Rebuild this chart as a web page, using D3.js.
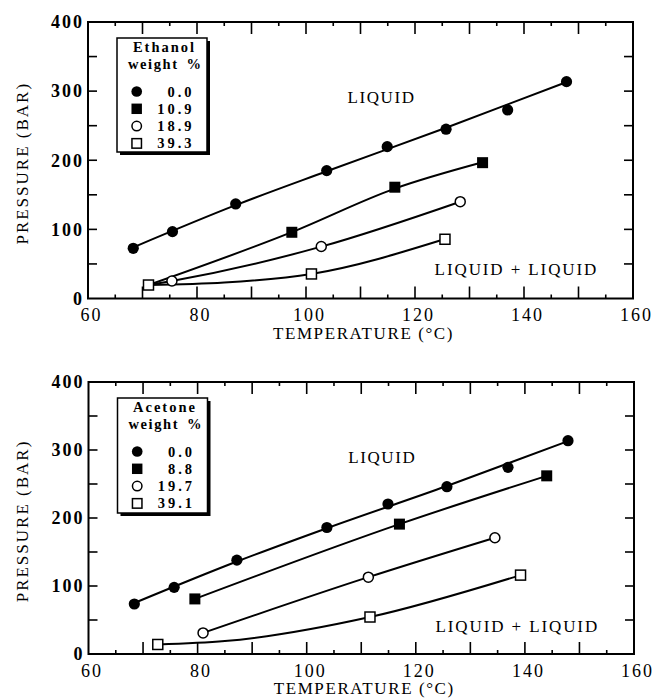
<!DOCTYPE html>
<html><head><meta charset="utf-8">
<script src="https://cdn.jsdelivr.net/npm/d3@7"></script>
<style>body{margin:0;background:#fff}</style>
</head><body><svg id="c" width="656" height="700"></svg>
<script>
// ---------- data ----------
const xTicks = [60, 80, 100, 120, 140, 160];
const yTicks = [0, 100, 200, 300, 400];
const xLabel = "TEMPERATURE (°C)";
const yLabel = "PRESSURE (BAR)";
const regionUpper = "LIQUID";
const regionLower = "LIQUID + LIQUID";
const weightLabel = "weight";
const percentLabel = "%";

// Ethanol panel (measured points)
const ethTitle = "Ethanol";
const ethLabels = ["0.0", "10.9", "18.9", "39.3"];
const eth0T = [68.3, 75.5, 87.1, 103.8, 114.9, 125.7, 137.0, 147.8];
const eth0P = [72.6, 96.7, 136.8, 185, 219.7, 244.9, 272.8, 313.7];
const eth1T = [97.4, 116.3, 132.4];
const eth1P = [95.8, 161, 196.5];
const eth2T = [75.4, 102.8, 128.3];
const eth2P = [25.3, 75.2, 140.1];
const eth3T = [71.1, 101.0, 125.5];
const eth3P = [19.5, 35.5, 85.7];
// Ethanol panel (drawn correlation curves)
const ethFit0T = [68.3, 87.1, 103.8, 125.7, 147.8];
const ethFit0P = [74, 135, 184, 247, 313];
const ethFit1T = [71.1, 97.4, 116.3, 132.4];
const ethFit1P = [19.5, 96, 159, 197];
const ethFit2T = [71.1, 75.4, 102.8, 128.3];
const ethFit2P = [19.5, 25.3, 75, 140];
const ethFit3T = [71.1, 85, 101.0, 125.5];
const ethFit3P = [19.5, 23, 35.5, 86];

// Acetone panel (measured points)
const aceTitle = "Acetone";
const aceLabels = ["0.0", "8.8", "19.7", "39.1"];
const ace0T = [68.4, 75.7, 87.2, 103.7, 114.9, 125.7, 136.9, 147.9];
const ace0P = [73.5, 98, 138, 186, 220.6, 246, 274.5, 313.7];
const ace1T = [79.5, 117.0, 144.0];
const ace1P = [81, 191, 262];
const ace2T = [81.0, 111.3, 134.5];
const ace2P = [31, 113, 171];
const ace3T = [72.7, 111.6, 139.2];
const ace3P = [14, 54.4, 116];
// Acetone panel (drawn correlation curves)
const aceFit0T = [68.4, 87.2, 103.7, 125.7, 147.9];
const aceFit0P = [75, 136, 185, 247, 313];
const aceFit1T = [79.5, 117.0, 144.0];
const aceFit1P = [81, 191, 262];
const aceFit2T = [81.0, 111.3, 134.5];
const aceFit2P = [31, 113, 171];
const aceFit3T = [72.7, 85, 111.6, 139.2];
const aceFit3P = [14, 19, 54.4, 116];

const markerKinds = ["fcircle", "fsquare", "ocircle", "osquare"];

// ---------- drawing ----------
const svg = d3.select("#c");
const FONT = "'Liberation Serif', 'Times New Roman', serif";

function panel(cfg) {
  const x = d3.scaleLinear().domain([60, 160]).range([cfg.left, cfg.right]);
  const y = d3.scaleLinear().domain([0, 400]).range([cfg.bottom, cfg.top]);
  const g = svg.append("g");

  const minorX = d3.range(65, 160, 10), majorX = d3.range(70, 160, 10);
  const ysTicks = d3.range(50, 400, 50);

  // inward tick marks (drawn through the scales)
  const tk = g.append("g").attr("stroke", "#000").attr("stroke-width", 1.6);
  const vTick = (vals, len) => vals.forEach(v => {
    tk.append("line").attr("x1", x(v)).attr("x2", x(v)).attr("y1", cfg.bottom).attr("y2", cfg.bottom - len);
    tk.append("line").attr("x1", x(v)).attr("x2", x(v)).attr("y1", cfg.top).attr("y2", cfg.top + len);
  });
  vTick(minorX, 4);
  vTick(majorX, 12);
  ysTicks.forEach(v => {
    tk.append("line").attr("x1", cfg.left).attr("x2", cfg.left + 9).attr("y1", y(v)).attr("y2", y(v));
    tk.append("line").attr("x1", cfg.right).attr("x2", cfg.right - 9).attr("y1", y(v)).attr("y2", y(v));
  });

  const style = sel => {
    sel.select(".domain").remove();
    sel.selectAll(".tick line").remove();
    sel.selectAll("text").attr("font-family", FONT).attr("fill", "#000");
  };
  // x labels
  const xl = g.append("g").attr("transform", `translate(0,${cfg.bottom})`)
    .call(d3.axisBottom(x).tickValues(xTicks).tickSize(0).tickPadding(10).tickFormat(d3.format("d")))
    .call(style);
  xl.selectAll("text").attr("font-size", 18).attr("letter-spacing", "2px").attr("dx", "3px");
  // y labels
  const yl = g.append("g").attr("transform", `translate(${cfg.left},0)`)
    .call(d3.axisLeft(y).tickValues(yTicks).tickSize(0).tickPadding(4).tickFormat(d3.format("d")))
    .call(style);
  yl.selectAll("text").attr("font-size", 18).attr("font-weight", "bold").attr("letter-spacing", "2px");

  // frame
  g.append("rect").attr("x", cfg.left).attr("y", cfg.top)
    .attr("width", cfg.right - cfg.left).attr("height", cfg.bottom - cfg.top)
    .attr("fill", "none").attr("stroke", "#000").attr("stroke-width", 2);

  // axis titles
  g.append("text").attr("x", (cfg.left + cfg.right) / 2 + 3).attr("y", cfg.bottom + 40)
    .attr("text-anchor", "middle").attr("font-family", FONT).attr("font-size", 17)
    .attr("letter-spacing", "1.6px").text(xLabel);
  g.append("text").attr("transform", `translate(28,${(cfg.top + cfg.bottom) / 2 + 3}) rotate(-90)`)
    .attr("text-anchor", "middle").attr("font-family", FONT).attr("font-size", 17)
    .attr("letter-spacing", "2px").text(yLabel);

  // region labels
  g.append("text").attr("x", x(107.6)).attr("y", y(cfg.upperP))
    .attr("font-family", FONT).attr("font-size", 17).attr("letter-spacing", "1.6px").text(regionUpper);
  g.append("text").attr("x", x(123.6)).attr("y", y(cfg.lowerP))
    .attr("font-family", FONT).attr("font-size", 17).attr("letter-spacing", "1.9px").text(regionLower);

  // curves
  const line = d3.line().x(d => x(d[0])).y(d => y(d[1])).curve(d3.curveMonotoneX);
  cfg.fits.forEach(f => {
    g.append("path").attr("d", line(d3.zip(f[0], f[1])))
      .attr("fill", "none").attr("stroke", "#000").attr("stroke-width", 2);
  });

  // markers
  const drawMarker = (sel, kind, cx, cy, scale = 1) => {
    const filled = kind[0] === "f";
    if (kind.endsWith("circle")) {
      sel.append("circle").attr("cx", cx).attr("cy", cy).attr("r", (filled ? 5.6 : 5) * scale)
        .attr("fill", filled ? "#000" : "#fff").attr("stroke", "#000").attr("stroke-width", filled ? 0 : 1.5);
    } else {
      const s = (filled ? 11 : 10) * scale;
      sel.append("rect").attr("x", cx - s / 2).attr("y", cy - s / 2).attr("width", s).attr("height", s)
        .attr("fill", filled ? "#000" : "#fff").attr("stroke", "#000").attr("stroke-width", filled ? 0 : 1.5);
    }
  };
  cfg.series.forEach((s, i) => {
    d3.zip(s[0], s[1]).forEach(d => drawMarker(g, markerKinds[i], x(d[0]), y(d[1])));
  });

  // legend
  const lx = cfg.left + 29, ly = cfg.top + 16, lw = 90, lh = cfg.legendH;
  g.append("rect").attr("x", lx + 3).attr("y", ly + 3).attr("width", lw).attr("height", lh).attr("fill", "#000");
  g.append("rect").attr("x", lx).attr("y", ly).attr("width", lw).attr("height", lh)
    .attr("fill", "#fff").attr("stroke", "#000").attr("stroke-width", 1.5);
  const lt = (t, tx, ty, anchor, ls) => g.append("text").attr("x", tx).attr("y", ty)
    .attr("text-anchor", anchor).attr("font-family", FONT).attr("font-weight", "bold")
    .attr("font-size", 14.5).attr("letter-spacing", ls).text(t);
  lt(cfg.title, lx + 47.5, ly + 13.5, "middle", "2px");
  lt(weightLabel, lx + 11, ly + 30.5, "start", "1.6px");
  lt(percentLabel, lx + 84, ly + 30.5, "end", "0px");
  cfg.labels.forEach((t, i) => {
    const ry = ly + 53.5 + i * 17.3;
    drawMarker(g, markerKinds[i], lx + 19.7, ry, 0.95);
    lt(t, lx + 77.5, ry + 5, "end", "3px");
  });
}

panel({
  left: 88, right: 633, top: 22, bottom: 298.5, upperP: 283, lowerP: 34, legendH: 114,
  title: ethTitle, labels: ethLabels,
  series: [[eth0T, eth0P], [eth1T, eth1P], [eth2T, eth2P], [eth3T, eth3P]],
  fits: [[ethFit0T, ethFit0P], [ethFit1T, ethFit1P], [ethFit2T, ethFit2P], [ethFit3T, ethFit3P]]
});
panel({
  left: 88.5, right: 634, top: 382, bottom: 654, upperP: 281, lowerP: 32, legendH: 115,
  title: aceTitle, labels: aceLabels,
  series: [[ace0T, ace0P], [ace1T, ace1P], [ace2T, ace2P], [ace3T, ace3P]],
  fits: [[aceFit0T, aceFit0P], [aceFit1T, aceFit1P], [aceFit2T, aceFit2P], [aceFit3T, aceFit3P]]
});
</script>
</body></html>
